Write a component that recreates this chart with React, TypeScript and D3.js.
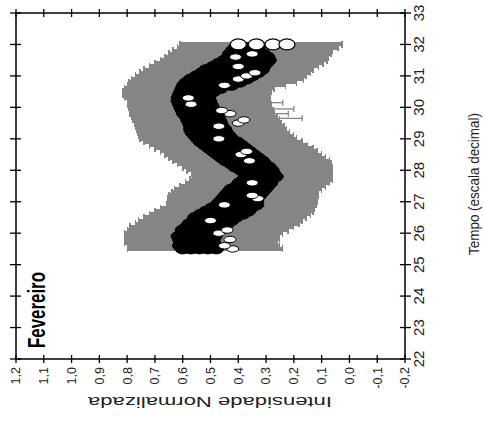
import React from 'react';
import * as d3 from 'd3';

// Time (decimal hours) of each sample
const times = [
  25.5, 25.6, 25.7, 25.8, 25.9, 26.0, 26.1, 26.2, 26.3, 26.4,
  26.5, 26.6, 26.7, 26.8, 26.9, 27.0, 27.1, 27.2, 27.3, 27.4,
  27.5, 27.6, 27.7, 27.8, 27.9, 28.0, 28.1, 28.2, 28.3, 28.4,
  28.5, 28.6, 28.7, 28.8, 28.9, 29.0, 29.1, 29.2, 29.3, 29.4,
  29.5, 29.6, 29.7, 29.8, 29.9, 30.0, 30.1, 30.2, 30.3, 30.4,
  30.5, 30.6, 30.7, 30.8, 30.9, 31.0, 31.1, 31.2, 31.3, 31.4,
  31.5, 31.6, 31.7, 31.8, 31.9, 32.0,
];

// Normalised intensity, series drawn with filled markers
const dayA = [
  0.60, 0.61, 0.605, 0.61, 0.615, 0.60, 0.60, 0.585, 0.575, 0.56,
  0.555, 0.535, 0.515, 0.495, 0.475, 0.465, 0.455, 0.445, 0.435, 0.425,
  0.405, 0.395, 0.38, 0.365, 0.375, 0.39, 0.41, 0.425, 0.445, 0.46,
  0.475, 0.49, 0.505, 0.52, 0.535, 0.545, 0.555, 0.565, 0.57, 0.57,
  0.575, 0.58, 0.585, 0.595, 0.60, 0.605, 0.61, 0.615, 0.615, 0.61,
  0.605, 0.60, 0.595, 0.585, 0.57, 0.55, 0.53, 0.515, 0.49, 0.47,
  0.45, 0.435, 0.43, 0.42, 0.41, 0.40,
];
const dayE = [
  0.57, 0.58, 0.58, 0.575, 0.585, 0.57, 0.565, 0.555, 0.54, 0.525,
  0.515, 0.50, 0.48, 0.455, 0.44, 0.43, 0.42, 0.415, 0.40, 0.395,
  0.38, 0.37, 0.355, 0.34, 0.35, 0.36, 0.38, 0.395, 0.41, 0.425,
  0.44, 0.455, 0.475, 0.49, 0.50, 0.515, 0.525, 0.53, 0.54, 0.545,
  0.55, 0.55, 0.56, 0.565, 0.57, 0.58, 0.58, 0.59, 0.59, 0.585,
  0.575, 0.57, 0.55, 0.54, 0.52, 0.50, 0.48, 0.465, 0.445, 0.43,
  0.41, 0.40, 0.40, 0.40, 0.39, null,
];
const dayB = [
  0.54, 0.55, 0.555, 0.545, 0.55, 0.54, 0.535, 0.525, 0.50, 0.49,
  0.475, 0.46, 0.445, 0.42, 0.41, 0.395, 0.39, 0.385, 0.37, 0.365,
  0.35, 0.345, 0.33, 0.315, 0.32, 0.335, 0.35, 0.365, 0.38, 0.39,
  0.41, 0.425, 0.445, 0.455, 0.465, 0.485, 0.495, 0.50, 0.51, 0.52,
  0.52, 0.525, 0.53, 0.54, 0.545, 0.55, 0.555, 0.56, 0.565, 0.56,
  0.55, 0.535, 0.51, 0.49, 0.47, 0.45, 0.43, 0.415, 0.40, 0.385,
  0.37, 0.365, 0.37, 0.375, 0.37, 0.335,
];
const dayF = [
  0.51, 0.52, 0.52, 0.52, 0.515, 0.515, 0.505, 0.49, 0.47, 0.455,
  0.44, 0.42, 0.405, 0.39, 0.37, 0.365, 0.36, 0.355, 0.345, 0.335,
  0.32, 0.315, 0.305, 0.29, 0.30, 0.31, 0.32, 0.335, 0.35, 0.36,
  0.375, 0.39, 0.41, 0.42, 0.435, 0.455, 0.465, 0.47, 0.48, 0.49,
  0.49, 0.50, 0.50, 0.51, 0.52, 0.52, 0.53, 0.53, 0.54, 0.53,
  0.52, 0.50, 0.47, 0.44, 0.42, 0.40, 0.38, 0.365, 0.355, 0.34,
  0.33, 0.33, 0.34, 0.35, 0.35, null,
];
const dayC = [
  0.48, 0.49, 0.49, 0.495, 0.485, 0.49, 0.475, 0.455, 0.44, 0.425,
  0.41, 0.385, 0.365, 0.355, 0.335, 0.335, 0.335, 0.325, 0.315, 0.305,
  0.295, 0.285, 0.28, 0.265, 0.275, 0.28, 0.29, 0.305, 0.315, 0.33,
  0.345, 0.36, 0.375, 0.39, 0.405, 0.425, 0.435, 0.445, 0.45, 0.46,
  0.465, 0.47, 0.475, 0.485, 0.49, 0.495, 0.50, 0.505, 0.51, 0.505,
  0.49, 0.465, 0.425, 0.395, 0.37, 0.35, 0.33, 0.315, 0.31, 0.30,
  0.29, 0.295, 0.31, 0.33, 0.33, 0.275,
];
// Series drawn with open markers (sparse)
const dayD = [
  0.42, 0.45, null, 0.43, null, 0.47, 0.44, null, null, 0.50,
  null, null, null, null, 0.45, null, 0.33, 0.35, null, null,
  null, 0.35, null, null, null, null, null, null, 0.36, null,
  0.39, 0.37, null, null, null, 0.47, null, null, null, 0.47,
  0.40, 0.38, null, 0.43, 0.46, null, 0.57, null, 0.58, null,
  null, null, 0.45, null, 0.40, 0.37, 0.34, null, 0.40, null,
  null, 0.41, 0.35, null, null, 0.225,
];

// Error bar limits (mean ± standard deviation)
const errHigh = [
  0.80, 0.80, 0.81, 0.81, 0.81, 0.81, 0.80, 0.79, 0.77, 0.76,
  0.74, 0.72, 0.70, 0.68, 0.66, 0.655, 0.655, 0.65, 0.64, 0.63,
  0.61, 0.59, 0.575, 0.565, 0.57, 0.585, 0.60, 0.62, 0.635, 0.65,
  0.665, 0.68, 0.70, 0.72, 0.74, 0.755, 0.76, 0.762, 0.765, 0.77,
  0.775, 0.78, 0.785, 0.79, 0.79, 0.795, 0.80, 0.80, 0.81, 0.815,
  0.815, 0.81, 0.80, 0.795, 0.785, 0.77, 0.755, 0.74, 0.72, 0.70,
  0.68, 0.665, 0.65, 0.635, 0.62, 0.61,
];
const errLow = [
  0.24, 0.25, 0.26, 0.25, 0.25, 0.24, 0.22, 0.20, 0.18, 0.17,
  0.155, 0.14, 0.13, 0.125, 0.12, 0.115, 0.115, 0.11, 0.11, 0.10,
  0.085, 0.07, 0.06, 0.06, 0.06, 0.06, 0.06, 0.065, 0.07, 0.085,
  0.10, 0.115, 0.13, 0.15, 0.17, 0.19, 0.20, 0.215, 0.225, 0.235,
  0.245, 0.25, 0.26, 0.27, 0.275, 0.28, 0.28, 0.285, 0.285, 0.285,
  0.28, 0.27, 0.23, 0.19, 0.165, 0.155, 0.14, 0.13, 0.11, 0.095,
  0.08, 0.075, 0.065, 0.06, 0.04, 0.025,
];

// A few isolated long error bars
const extraTimes = [29.65, 29.8, 29.95, 30.15];
const extraLow = [0.17, 0.22, 0.2, 0.24];
const extraHigh = [0.29, 0.29, 0.29, 0.29];

const intensityTicks = [1.2, 1.1, 1.0, 0.9, 0.8, 0.7, 0.6, 0.5, 0.4, 0.3, 0.2, 0.1, 0.0, -0.1, -0.2];
const timeTicks = [22, 23, 24, 25, 26, 27, 28, 29, 30, 31, 32, 33];

const FONT = "'Liberation Sans', Arial, Helvetica, sans-serif";
const GRAY = '#858585';

function fmt(v: number): string {
  const s = Math.abs(v) < 1e-9 ? '0.0' : v.toFixed(1);
  return s.replace('.', ',');
}

export default function App() {
  const W = 484;
  const H = 421;
  const x = d3.scaleLinear().domain([1.2, -0.2]).range([16, 405]);
  const y = d3.scaleLinear().domain([22, 33]).range([359, 13]);
  const [x0, x1] = x.range();
  const [y0, y1] = y.range();
  const last = times.length - 1;
  const rx = 7.5;
  const ry = 5;
  const filled = [dayA, dayE, dayB, dayF, dayC];

  return (
    <svg width={W} height={H} style={{ position: 'absolute', left: 0, top: 0, background: '#fff' }}
      fontFamily={FONT}>
      <rect x={0} y={0} width={W} height={H} fill="#fff" />

      {/* error bars */}
      <g fill={GRAY} shapeRendering="crispEdges">
        {times.map((t, i) => (
          <g key={'e' + i}>
            <rect x={x(errHigh[i])} width={x(errLow[i]) - x(errHigh[i])} y={y(t) - 2} height={4} />
            <rect x={x(errHigh[i]) - 0.5} width={1.5} y={y(t) - 3.5} height={7} />
            <rect x={x(errLow[i]) - 1} width={1.5} y={y(t) - 3.5} height={7} />
          </g>
        ))}
      </g>
      <g stroke={GRAY} fill="none" strokeWidth={1.3}>
        {extraTimes.map((t, i) => (
          <g key={'x' + i}>
            <line x1={x(extraHigh[i])} x2={x(extraLow[i])} y1={y(t)} y2={y(t)} />
            <line x1={x(extraLow[i])} x2={x(extraLow[i])} y1={y(t) - 3} y2={y(t) + 3} />
          </g>
        ))}
      </g>

      {/* filled markers */}
      <g fill="#000" stroke="#000" strokeWidth={1}>
        {filled.map((s, k) =>
          times.slice(0, last).map((t, i) =>
            s[i] == null ? null : (
              <ellipse key={k + '-' + i} cx={x(s[i] as number)} cy={y(t)} rx={rx} ry={ry} />
            )
          )
        )}
      </g>
      {/* sparse open markers on top */}
      <g fill="#fff" stroke="#000" strokeWidth={1}>
        {times.slice(0, last).map((t, i) =>
          dayD[i] == null ? null : (
            <ellipse key={'d' + i} cx={x(dayD[i] as number)} cy={y(t)} rx={6} ry={3.2} />
          )
        )}
      </g>
      {/* last row, open markers */}
      <g fill="#fff" stroke="#000" strokeWidth={1.2}>
        {[dayA, dayB, dayC, dayD].map((s, k) => (
          <ellipse key={'l' + k} cx={x(s[last] as number)} cy={y(times[last])} rx={rx + 0.5} ry={ry + 0.5} />
        ))}
      </g>

      {/* frame */}
      <rect x={x0} y={y1} width={x1 - x0} height={y0 - y1} fill="none" stroke="#000" strokeWidth={1.5} />

      {/* ticks on all four sides */}
      <g stroke="#000" strokeWidth={1.3}>
        {intensityTicks.map((v) => (
          <g key={'it' + v}>
            <line x1={x(v)} x2={x(v)} y1={y0 - 4} y2={y0 + 4} />
            <line x1={x(v)} x2={x(v)} y1={y1 - 4} y2={y1 + 4} />
          </g>
        ))}
        {timeTicks.map((t) => (
          <g key={'tt' + t}>
            <line x1={x0 - 6} x2={x0 + 5} y1={y(t)} y2={y(t)} />
            <line x1={x1 - 5} x2={x1 + 6} y1={y(t)} y2={y(t)} />
          </g>
        ))}
      </g>

      {/* intensity tick labels */}
      <g fontSize={12.5} fill="#222">
        {intensityTicks.map((v) => (
          <text key={'il' + v} transform={`translate(${x(v)},367) rotate(-90)`} textAnchor="end" dy="0.35em">
            {fmt(v)}
          </text>
        ))}
      </g>
      {/* time tick labels */}
      <g fontSize={15} fill="#222">
        {timeTicks.map((t) => (
          <text key={'tl' + t} transform={`translate(419,${y(t)}) rotate(-90)`} textAnchor="middle" dy="0.35em">
            {t}
          </text>
        ))}
      </g>

      {/* axis titles */}
      <text transform="translate(210,402) rotate(180)" textAnchor="middle" fontSize={15} fill="#222"
        textLength={244} lengthAdjust="spacingAndGlyphs" dy="0.35em">
        Intensidade Normalizada
      </text>
      <text transform="translate(474,184) rotate(-90)" textAnchor="middle" fontSize={14} fill="#222"
        textLength={142} lengthAdjust="spacingAndGlyphs" dy="0.35em">
        Tempo (escala decimal)
      </text>

      {/* panel label */}
      <text transform="translate(45,348) rotate(-90)" textAnchor="start" fontSize={23} fontWeight="bold"
        fill="#000" textLength={76} lengthAdjust="spacingAndGlyphs">
        Fevereiro
      </text>
    </svg>
  );
}
